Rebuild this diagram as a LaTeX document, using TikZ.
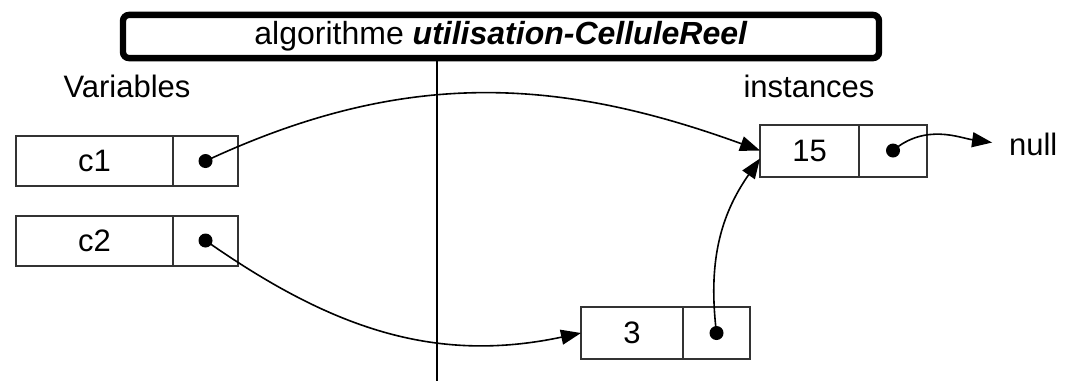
\documentclass[tikz,border=0pt]{standalone}
\usepackage{fontspec}
\setmainfont{Liberation Sans}
\usetikzlibrary{arrows.meta, positioning}

\begin{document}
\begin{tikzpicture}[x=0.5pt, y=0.5pt,
    every node/.style={font=\fontsize{15.5}{18}\selectfont},
    valcell/.style={rectangle, draw=black!80, line width=1pt, minimum height=25pt, inner sep=0pt, outer sep=0pt},
    ptrcell/.style={valcell, anchor=west},
    dot/.style={circle, fill=black, inner sep=0pt, minimum size=7pt},
    ptr/.style={line width=0.8pt, -{Triangle[length=10pt,width=7.5pt]}}]

    \useasboundingbox (0,0) rectangle (1069,-381);

    % Title
    \node[rectangle, rounded corners=3pt, draw, line width=3.2pt, minimum width=378pt,
          minimum height=20.5pt, font=\fontsize{16}{19}\selectfont] (title) at (501,-36.5)
        {algorithme \textbf{\textit{utilisation-CelluleReel}}};

    % Separator
    \coordinate (sepbot) at (437,-381);
    \draw[line width=1pt] (sepbot |- title.south) -- (sepbot);

    % Column labels
    \node[anchor=base] (variables) at (127,-97) {Variables};
    \node[anchor=base] (instances) at (809,-97) {instances};

    % Variables
    \node[valcell, minimum width=78.5pt] (c1) at (94.5,-161) {c1};
    \node[ptrcell, minimum width=32.5pt] (c1p) at (c1.east) {};
    \node[valcell, minimum width=78.5pt] (c2) at (94.5,-240.5) {c2};
    \node[ptrcell, minimum width=32.5pt] (c2p) at (c2.east) {};

    % Instances
    \node[valcell, minimum width=49.5pt, minimum height=26pt] (v15) at (809.5,-150.5) {15};
    \node[ptrcell, minimum width=34pt, minimum height=26pt] (v15p) at (v15.east) {};
    \node[valcell, minimum width=51pt, minimum height=26pt] (v3) at (632,-333) {3};
    \node[ptrcell, minimum width=33.5pt, minimum height=26pt] (v3p) at (v3.east) {};

    \node[anchor=base west] (null) at (1002,-155) {null};

    % Pointers
    \node[dot] (d1) at (c1p.center) {};
    \node[dot] (d2) at (c2p.center) {};
    \node[dot] (d15) at (v15p.center) {};
    \node[dot] (d3) at (v3p.center) {};

    \draw[ptr] (d1.center) to[out=25,in=160] (v15.west);
    \draw[ptr] (d2.center) to[out=-35,in=192] (v3.west);
    \draw[ptr] (d3.center) to[out=97,in=235] ([yshift=-4pt]v15.west);
    \draw[ptr, shorten >=5pt] (d15.center) to[out=40,in=172] (null.west);
\end{tikzpicture}
\end{document}
